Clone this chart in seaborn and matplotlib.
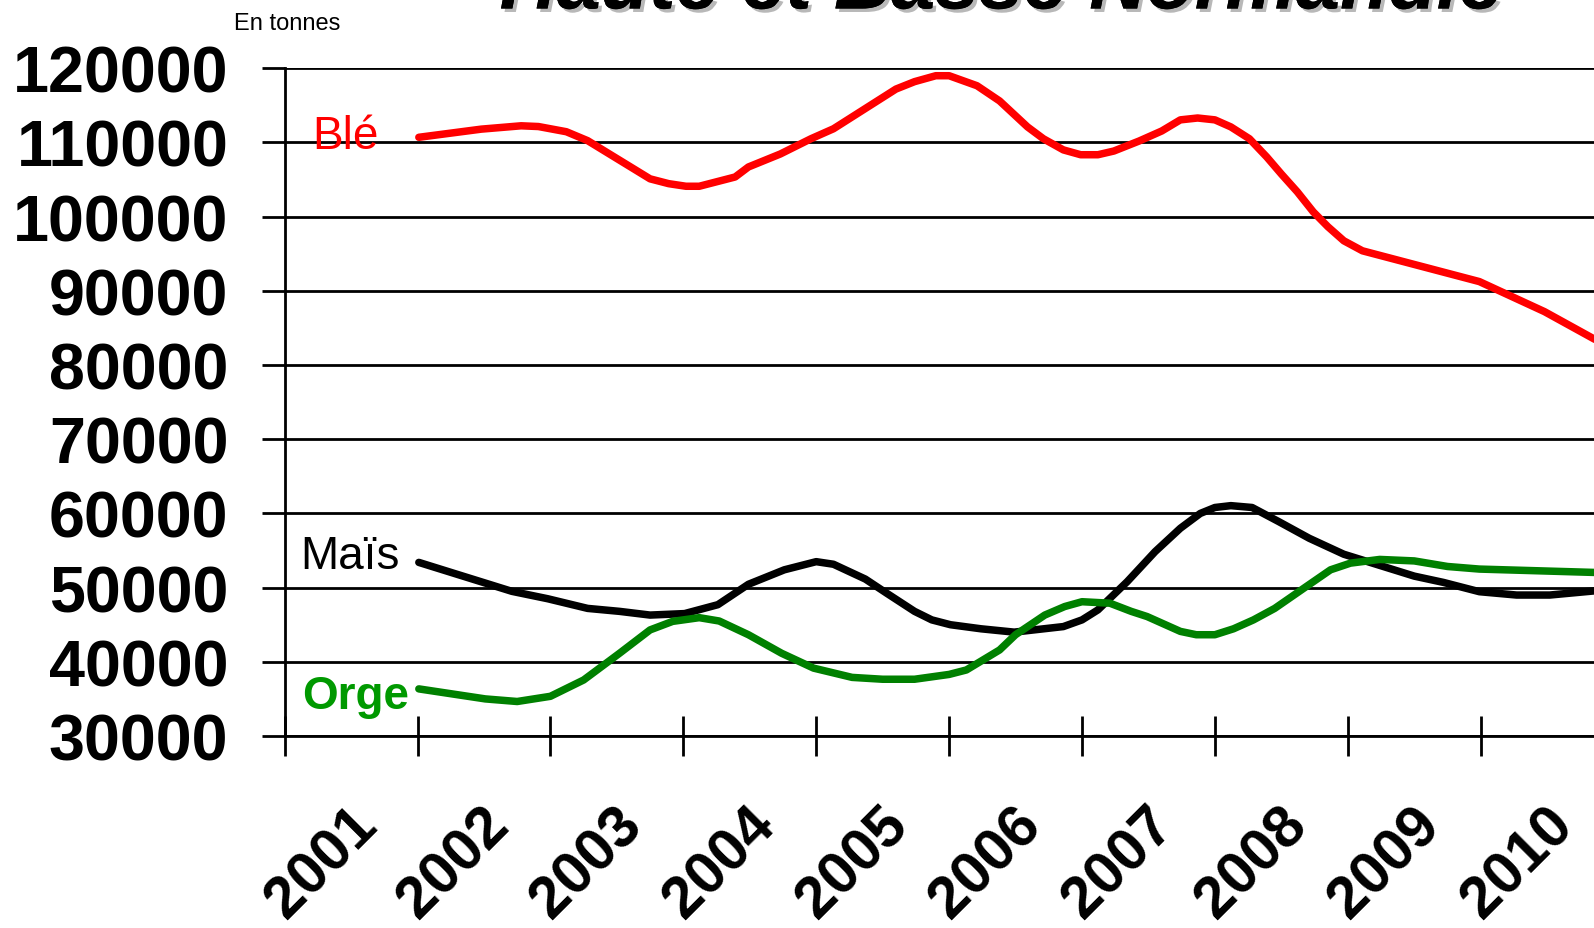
import numpy as np
import pandas as pd
import matplotlib
matplotlib.use("Agg")
import matplotlib.pyplot as plt
import matplotlib.transforms as mtransforms
import matplotlib.patheffects as pe
import seaborn as sns

# ---------------- data ----------------
years = ["2001", "2002", "2003", "2004", "2005", "2006", "2007", "2008", "2009", "2010"]
y_ticks = [30000, 40000, 50000, 60000, 70000, 80000, 90000, 100000, 110000, 120000]

# x positions in "year-slot" units (0 = y axis, 1 = boundary 2001/2002, ...)
ble_x = [1.01, 1.48, 1.78, 1.91, 2.12, 2.28, 2.75, 2.89, 3.02, 3.12, 3.39, 3.49, 3.73, 3.96,
         4.13, 4.60, 4.74, 4.90, 5.00, 5.21, 5.38, 5.59, 5.71, 5.86, 5.99, 6.12, 6.24, 6.43,
         6.60, 6.74, 6.87, 7.00, 7.12, 7.26, 7.39, 7.50, 7.62, 7.74, 7.85, 7.97, 8.11, 8.99,
         9.48, 9.85, 10.0]
ble_y = [110700, 111800, 112250, 112150, 111450, 110250, 105100, 104450, 104100, 104100,
         105350, 106700, 108450, 110500, 111850, 117200, 118200, 119000, 119000, 117650,
         115600, 112100, 110500, 109000, 108350, 108350, 108850, 110200, 111550, 113050,
         113300, 113050, 112100, 110500, 108050, 105750, 103350, 100650, 98650, 96750,
         95400, 91250, 87200, 83550, 82100]

mais_x = [1.01, 1.71, 1.98, 2.28, 2.52, 2.75, 3.01, 3.26, 3.49, 3.76, 4.00, 4.13, 4.37, 4.53,
          4.74, 4.87, 5.01, 5.24, 5.49, 5.86, 6.00, 6.12, 6.34, 6.55, 6.74, 6.89, 7.00, 7.12,
          7.28, 7.48, 7.71, 7.97, 8.50, 8.72, 8.99, 9.27, 9.52, 9.85, 10.0]
mais_y = [53400, 49500, 48500, 47200, 46800, 46300, 46500, 47700, 50450, 52400, 53500, 53150,
          51150, 49250, 46800, 45650, 45000, 44450, 44000, 44750, 45650, 47000, 50800, 54850,
          58000, 60000, 60800, 61050, 60800, 58900, 56650, 54500, 51550, 50700, 49450, 49000,
          49000, 49550, 49800]

orge_x = [1.01, 1.51, 1.75, 2.00, 2.25, 2.52, 2.75, 2.92, 3.12, 3.27, 3.49, 3.74, 3.98, 4.27,
          4.50, 4.74, 5.00, 5.13, 5.38, 5.50, 5.72, 5.87, 6.00, 6.21, 6.37, 6.49, 6.74, 6.86,
          7.00, 7.14, 7.29, 7.45, 7.70, 7.87, 8.02, 8.24, 8.50, 8.75, 8.99, 9.85, 10.0]
orge_y = [36350, 35000, 34650, 35350, 37550, 41150, 44300, 45450, 45950, 45500, 43650, 41150,
          39150, 37900, 37650, 37650, 38300, 38900, 41600, 43650, 46300, 47450, 48100, 47900,
          46800, 46100, 44100, 43650, 43650, 44450, 45650, 47200, 50300, 52400, 53300, 53800,
          53600, 52850, 52500, 52050, 52000]

series_names = ["Blé", "Maïs", "Orge"]
line_colors = ["#ff0000", "#000000", "#008000"]
label_colors = ["#ff0000", "#000000", "#009900"]

# ---------------- styling ----------------
sns.set_style("white")
plt.rcParams["font.family"] = ["Liberation Sans", "DejaVu Sans"]
plt.rcParams["text.color"] = "black"
plt.rcParams["xtick.color"] = "black"
plt.rcParams["ytick.color"] = "black"
plt.rcParams["xtick.bottom"] = True
plt.rcParams["ytick.left"] = True

W, H, DPI = 1594, 929, 100
fig = plt.figure(figsize=(W / DPI, H / DPI), dpi=DPI)

x0_px, ax_top_px, ax_bot_px = 284.6, 69.3, 737.0
slot_px = 132.9
ax = fig.add_axes([x0_px / W, (H - ax_bot_px) / H, 10 * slot_px / W, (ax_bot_px - ax_top_px) / H])

df = pd.concat([
    pd.DataFrame({"x": ble_x, "y": ble_y, "s": "Blé"}),
    pd.DataFrame({"x": mais_x, "y": mais_y, "s": "Maïs"}),
    pd.DataFrame({"x": orge_x, "y": orge_y, "s": "Orge"}),
])

for name, col in zip(series_names, line_colors):
    sub = df[df["s"] == name]
    sns.lineplot(data=sub, x="x", y="y", ax=ax, color=col, linewidth=5.4,
                 sort=False, estimator=None, legend=False, zorder=3,
                 solid_capstyle="round", solid_joinstyle="round")

ax.set_xlim(0, 10)
ax.set_ylim(30000, 120000)
ax.set_xlabel("")
ax.set_ylabel("")

# gridlines
ax.set_yticks(y_ticks)
ax.set_yticklabels([str(v) for v in y_ticks], fontsize=46.5, fontweight="bold", color="black")
ax.yaxis.grid(True, color="black", linewidth=2.0)
ax.xaxis.grid(False)
ax.tick_params(axis="y", left=True, direction="out", length=16.5, width=2.0, pad=24,
               colors="black")

# x axis: boundary ticks (minor) and centred labels (major)
ax.set_xticks(np.arange(0, 11), minor=True)
ax.set_xticks(np.arange(len(years)) + 0.5)
ax.set_xticklabels(years, fontsize=42.5, fontweight="bold", rotation=45,
                   ha="center", va="center", color="black")
ax.tick_params(axis="x", which="major", bottom=True, length=0, pad=91)
ax.tick_params(axis="x", which="minor", bottom=True, direction="inout", length=29.5,
               width=2.0, colors="black")
shift = mtransforms.ScaledTranslation(-29.5 / DPI, 0, fig.dpi_scale_trans)
for lab in ax.get_xticklabels():
    lab.set_transform(lab.get_transform() + shift)

for side in ["top", "right"]:
    ax.spines[side].set_visible(False)
for side in ["left", "bottom"]:
    ax.spines[side].set_color("black")
    ax.spines[side].set_linewidth(2.0)
ax.set_axisbelow(False)

# series labels
ax.text(0.71, 109220, "Blé", color=label_colors[0], fontsize=33, ha="right", va="baseline")
ax.text(0.865, 52700, "Maïs", color=label_colors[1], fontsize=33, ha="right", va="baseline")
ax.text(0.935, 33815, "Orge", color=label_colors[2], fontsize=33, fontweight="bold",
        ha="right", va="baseline")

# unit label and (clipped) title
fig.text(234 / W, 1 - 24 / H, "En tonnes", fontsize=17, ha="left", va="center", color="black")
fig.text(1001 / W, 1 - 9.5 / H, "Haute et Basse Normandie", fontsize=57, fontweight="bold",
         fontstyle="italic", ha="center", va="baseline", color="black",
         path_effects=[pe.withSimplePatchShadow(offset=(2.5, -2.5), shadow_rgbFace="#9a9a9a",
                                                alpha=0.7), pe.Normal()])

fig.savefig("out.png", dpi=DPI)
